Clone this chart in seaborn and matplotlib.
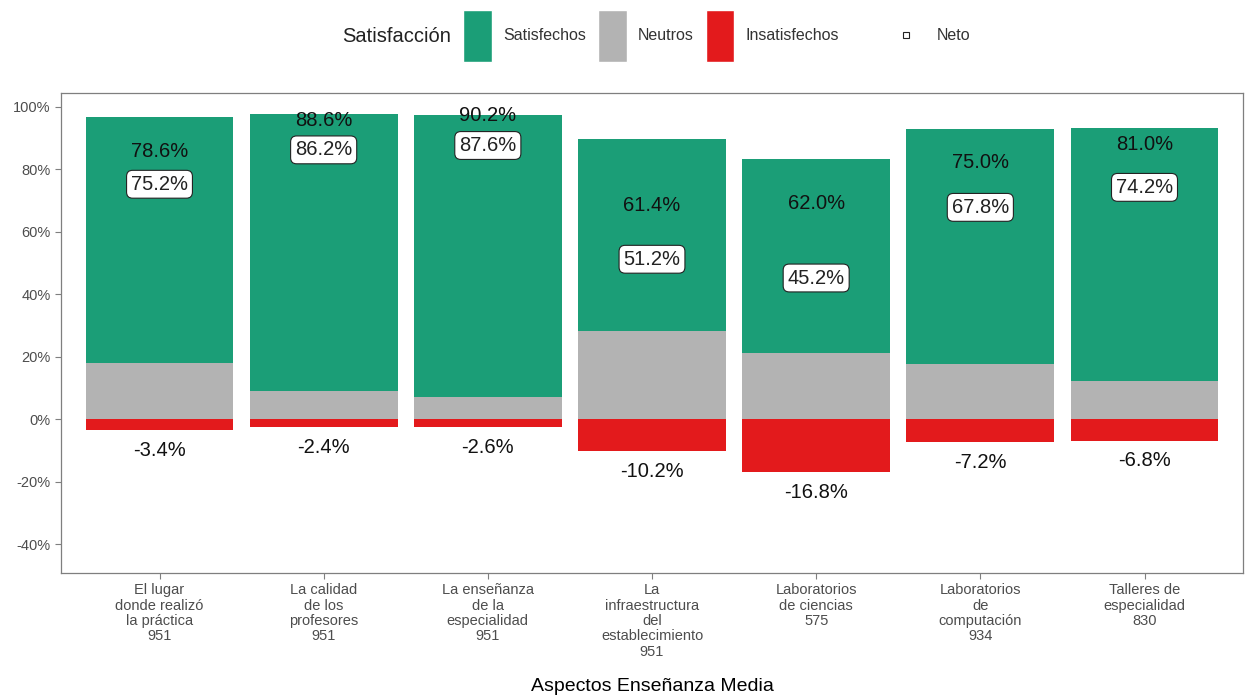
import numpy as np
import pandas as pd
import matplotlib.pyplot as plt
import seaborn as sns
from matplotlib.patches import Patch
from matplotlib.lines import Line2D

# Data
aspectos = ['El lugar\ndonde realizó\nla práctica\n951',
            'La calidad\nde los\nprofesores\n951',
            'La enseñanza\nde la\nespecialidad\n951',
            'La\ninfraestructura\ndel\nestablecimiento\n951',
            'Laboratorios\nde ciencias\n575',
            'Laboratorios\nde\ncomputación\n934',
            'Talleres de\nespecialidad\n830']
satisfechos = [78.6, 88.6, 90.2, 61.4, 62.0, 75.0, 81.0]
neutros = [18.0, 9.0, 7.2, 28.4, 21.2, 17.8, 12.2]
insatisfechos = [-3.4, -2.4, -2.6, -10.2, -16.8, -7.2, -6.8]
neto = [75.2, 86.2, 87.6, 51.2, 45.2, 67.8, 74.2]

df = pd.DataFrame({'aspecto': aspectos, 'sat': satisfechos, 'neu': neutros,
                   'ins': insatisfechos, 'neto': neto})
df['tope'] = df['sat'] + df['neu']

c_sat = '#1B9E77'
c_neu = '#B3B3B3'
c_ins = '#E31A1C'

sns.set_style('white')
plt.rcParams['font.family'] = ['Liberation Sans', 'DejaVu Sans']

fig = plt.figure(figsize=(12.49, 6.96), dpi=100)
ax = fig.add_axes([61 / 1249, 123 / 696, 1182 / 1249, 480 / 696])

bar_kw = dict(saturation=1, width=0.9, linewidth=0, edgecolor='none', ax=ax)
sns.barplot(data=df, x='aspecto', y='tope', color=c_sat, **bar_kw)
sns.barplot(data=df, x='aspecto', y='neu', color=c_neu, **bar_kw)
sns.barplot(data=df, x='aspecto', y='ins', color=c_ins, **bar_kw)

for i, row in df.iterrows():
    ax.text(i, row['sat'] + 7, f"{row['sat']:.1f}%", ha='center', va='center',
            fontsize=14.5, color='#111111')
    ax.text(i, row['neto'], f"{row['neto']:.1f}%", ha='center', va='center',
            fontsize=14.5, color='#222222',
            bbox=dict(boxstyle='round,pad=0.22,rounding_size=0.3', fc='white', ec='#222222', lw=0.8))
    ax.text(i, row['ins'] - 6.5, f"{row['ins']:.1f}%", ha='center', va='center',
            fontsize=14.5, color='#111111')

ax.set_xlim(-0.6, 6.6)
ax.set_ylim(-49.2, 104.4)
ax.set_yticks([-40, -20, 0, 20, 40, 60, 80, 100])
ax.set_yticklabels([f'{v}%' for v in [-40, -20, 0, 20, 40, 60, 80, 100]])
ax.tick_params(axis='both', colors='#7F7F7F', labelcolor='#4D4D4D', labelsize=10.5,
               length=4, width=0.8, direction='out', bottom=True, left=True)
for lbl in ax.get_xticklabels():
    lbl.set_linespacing(1.12)
for s in ax.spines.values():
    s.set_color('#7F7F7F')
    s.set_linewidth(0.9)
ax.set_ylabel('')
ax.set_xlabel('Aspectos Enseñanza Media', fontsize=14, color='black', labelpad=14)

# Legend at the top
fig.text(342 / 1249, 1 - 36 / 696, 'Satisfacción', fontsize=14.5, color='#222222',
         ha='left', va='center')
fill_handles = [Patch(facecolor=c_sat, label='Satisfechos'),
                Patch(facecolor=c_neu, label='Neutros'),
                Patch(facecolor=c_ins, label='Insatisfechos')]
fig.legend(handles=fill_handles, loc='center left', bbox_to_anchor=(463 / 1249, 1 - 36 / 696),
           ncol=3, frameon=False, fontsize=11.5, handlelength=1.8, handleheight=4.6,
           columnspacing=0.75, handletextpad=0.7, labelcolor='#333333',
           borderpad=0, borderaxespad=0)
neto_handle = [Line2D([], [], marker='s', linestyle='', markersize=5, markerfacecolor='white',
                      markeredgecolor='#222222', markeredgewidth=0.8, label='Neto')]
fig.legend(handles=neto_handle, loc='center left', bbox_to_anchor=(892 / 1249, 1 - 36 / 696),
           frameon=False, fontsize=11.5, handlelength=1.8, handletextpad=1.0,
           labelcolor='#333333', borderpad=0, borderaxespad=0)

plt.savefig('out.png', dpi=100)
